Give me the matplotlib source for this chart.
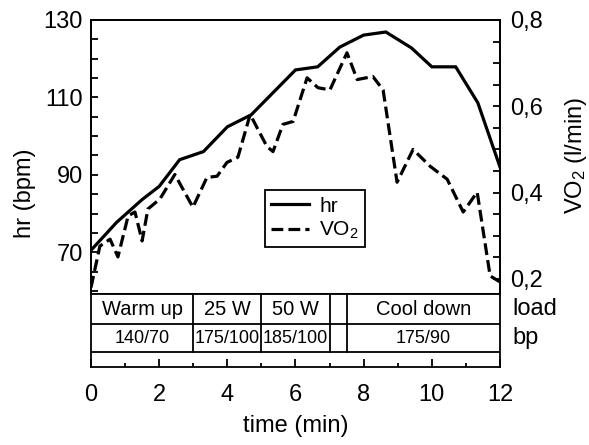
import matplotlib
matplotlib.use("Agg")
import matplotlib.pyplot as plt
from matplotlib.ticker import FixedLocator, MultipleLocator, FixedFormatter

plt.rcParams['font.family'] = ['Liberation Sans', 'DejaVu Sans']
plt.rcParams['mathtext.fontset'] = 'custom'
plt.rcParams['mathtext.rm'] = 'Liberation Sans'
plt.rcParams['mathtext.it'] = 'Liberation Sans'

# heart rate (bpm) over time (min)
time_hr = [0, 0.75, 1.5, 2.0, 2.6, 3.3, 4.0, 4.7, 6.0, 6.65, 7.3, 8.0, 8.65,
           9.4, 10.0, 10.7, 11.35, 12.0]
hr = [70.5, 77.7, 83.6, 87.0, 93.9, 96.0, 102.4, 105.5, 117.1, 117.9, 123.0,
      126.1, 126.9, 122.8, 117.9, 117.9, 108.6, 92.0]

# oxygen uptake (l/min) over time (min)
time_vo2 = [0, 0.26, 0.56, 0.79, 1.09, 1.29, 1.5, 1.67, 2.02, 2.46, 2.99, 3.4,
            3.7, 3.99, 4.31, 4.67, 5.16, 5.34, 5.63, 5.93, 6.34, 6.66, 7.01,
            7.51, 7.81, 8.27, 8.57, 8.98, 9.45, 9.95, 10.45, 10.92, 11.33,
            11.71, 12.0]
vo2 = [0.18, 0.276, 0.292, 0.251, 0.346, 0.355, 0.288, 0.362, 0.385, 0.442,
       0.366, 0.435, 0.438, 0.470, 0.482, 0.581, 0.507, 0.495, 0.558, 0.565,
       0.666, 0.643, 0.638, 0.724, 0.662, 0.669, 0.638, 0.424, 0.500, 0.461,
       0.431, 0.355, 0.401, 0.207, 0.193]

# protocol table below the plot
phase_edges = [0, 3, 5, 7, 7.5, 12]
load_labels = ["Warm up", "25 W", "50 W", "", "Cool down"]
bp_labels = ["140/70", "175/100", "185/100", "", "175/90"]

hr_ticks = [70, 90, 110, 130]
vo2_ticks = [0.2, 0.4, 0.6, 0.8]
vo2_tick_labels = ["0,2", "0,4", "0,6", "0,8"]

fig = plt.figure(figsize=(5.89, 4.45), dpi=100)
W, H = 589, 445
ax = fig.add_axes([91 / W, 1 - 294 / H, 409 / W, 274 / H])
ax2 = ax.twinx()
tab = fig.add_axes([91 / W, 1 - 367 / H, 409 / W, 73 / H], sharex=ax)

l1, = ax.plot(time_hr, hr, color='black', lw=2.3, solid_joinstyle='miter')
l2, = ax2.plot(time_vo2, vo2, color='black', lw=2.3, ls='--')

ax.set_xlim(0, 12)
ax.set_ylim(59.2, 130)
ax2.set_ylim(0.165, 0.8)

for a in (ax, ax2, tab):
    for s in a.spines.values():
        s.set_linewidth(1.3)

ax.yaxis.set_major_locator(FixedLocator(hr_ticks))
ax.yaxis.set_minor_locator(MultipleLocator(5))
ax.tick_params(axis='y', which='both', direction='in', length=5, width=1.3,
               labelsize=17, pad=6)
ax.tick_params(axis='x', which='both', bottom=False, labelbottom=False)

ax2.yaxis.set_major_locator(FixedLocator(vo2_ticks))
ax2.yaxis.set_major_formatter(FixedFormatter(vo2_tick_labels))
ax2.yaxis.set_minor_locator(MultipleLocator(0.05))
ax2.tick_params(axis='y', which='both', direction='in', length=5, width=1.3,
                labelsize=17, pad=7)

leg = ax.legend([l1, l2], ["hr", "VO$_2$"], loc='center',
                bbox_to_anchor=(0.548, 0.274), fontsize=15, fancybox=False,
                edgecolor='black', framealpha=1, handlelength=1.8,
                borderpad=0.3, labelspacing=0.2, handletextpad=0.5)
leg.get_frame().set_linewidth(1.3)

# table
tab.set_ylim(0, 1)
tab.set_yticks([])
row_lo, row_mid = 0.205, 0.589
tab.axhline(row_lo, color='black', lw=1.3)
tab.axhline(row_mid, color='black', lw=1.3)
for e in phase_edges[1:-1]:
    tab.plot([e, e], [row_lo, 1], color='black', lw=1.3)
for i in range(len(load_labels)):
    xc = (phase_edges[i] + phase_edges[i + 1]) / 2
    tab.text(xc, (row_mid + 1) / 2, load_labels[i], ha='center', va='center',
             fontsize=14.5)
    tab.text(xc, (row_lo + row_mid) / 2, bp_labels[i], ha='center',
             va='center', fontsize=13)
tab.text(1.03, (row_mid + 1) / 2, "load", transform=tab.transAxes,
         ha='left', va='center', fontsize=17)
tab.text(1.03, (row_lo + row_mid) / 2, "bp", transform=tab.transAxes,
         ha='left', va='center', fontsize=17)

tab.xaxis.set_major_locator(MultipleLocator(2))
tab.xaxis.set_minor_locator(MultipleLocator(1))
tab.tick_params(axis='x', which='major', direction='in', length=6, width=1.3,
                labelsize=17, pad=12)
tab.tick_params(axis='x', which='minor', direction='in', length=3, width=1.3)
tab.set_xlabel("time (min)", fontsize=17, labelpad=7)

fig.text(25 / W, 1 - 193 / H, "hr (bpm)", rotation=90, ha='center',
         va='center', fontsize=17)
fig.text(576 / W, 1 - 155 / H, "VO$_2$ (l/min)", rotation=90, ha='center',
         va='center', fontsize=17)

fig.savefig("out.png", dpi=100)
